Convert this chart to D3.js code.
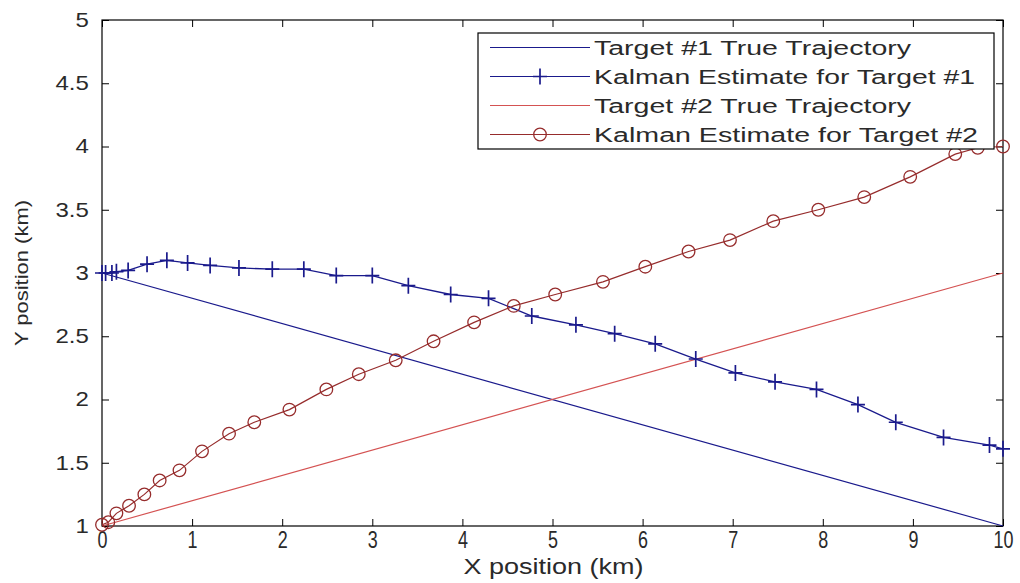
<!DOCTYPE html>
<html>
<head>
<meta charset="utf-8">
<script src="https://cdn.jsdelivr.net/npm/d3@7"></script>
<style>
  body { margin: 0; background: #fff; }
  text { font-family: Arial, "Liberation Sans", sans-serif; }
</style>
</head>
<body>
<div id="chart"></div>
<script>
// tick values
var xTicks = [0, 1, 2, 3, 4, 5, 6, 7, 8, 9, 10];
var yTicks = [1, 1.5, 2, 2.5, 3, 3.5, 4, 4.5, 5];

// true trajectories
var true1X = [0, 10];
var true1Y = [3, 1];
var true2X = [0, 10];
var true2Y = [1, 3];

// kalman estimate, target #1
var est1X = [0, 0.04, 0.11, 0.16, 0.29, 0.50, 0.72, 0.95, 1.20, 1.52, 1.89, 2.24, 2.60, 3.00, 3.40,
             3.87, 4.29, 4.77, 5.26, 5.69, 6.14, 6.59, 7.03, 7.47, 7.93, 8.39, 8.81, 9.34, 9.85, 10];
var est1Y = [3.00, 3.00, 3.00, 3.01, 3.02, 3.07, 3.10, 3.08, 3.06, 3.04, 3.03, 3.03, 2.98, 2.98, 2.90,
             2.83, 2.80, 2.66, 2.59, 2.52, 2.44, 2.32, 2.21, 2.14, 2.08, 1.96, 1.82, 1.70, 1.64, 1.61];

// kalman estimate, target #2
var est2X = [0, 0.07, 0.16, 0.30, 0.47, 0.64, 0.86, 1.11, 1.41, 1.69, 2.08, 2.49, 2.85, 3.26, 3.68,
             4.13, 4.57, 5.03, 5.56, 6.03, 6.51, 6.97, 7.45, 7.95, 8.46, 8.97, 9.47, 9.72, 10];
var est2Y = [1.01, 1.03, 1.10, 1.16, 1.25, 1.36, 1.44, 1.59, 1.73, 1.82, 1.92, 2.08, 2.20, 2.31, 2.46,
             2.61, 2.74, 2.83, 2.93, 3.05, 3.17, 3.26, 3.41, 3.50, 3.60, 3.76, 3.94, 3.99, 4.00];

var legendLabels = ["Target #1 True Trajectory", "Kalman Estimate for Target #1",
                    "Target #2 True Trajectory", "Kalman Estimate for Target #2"];

var blue = "#1a1a8c", red = "#d45252", darkRed = "#962c2c";
var textCol = "#2a2a2a";

var width = 1020, height = 583;
var svg = d3.select("#chart").append("svg")
    .attr("width", width)
    .attr("height", height);

var x = d3.scaleLinear().domain([0, 10]).range([102, 1003]);
var y = d3.scaleLinear().domain([1, 5]).range([526, 20]);

function zip(xs, ys) { return xs.map(function(d, i) { return [d, ys[i]]; }); }
var line = d3.line().x(function(d) { return x(d[0]); }).y(function(d) { return y(d[1]); });

// axes, ticks inside like matlab
var gx = svg.append("g")
    .attr("transform", "translate(0," + y(1) + ")")
    .call(d3.axisBottom(x).tickValues(xTicks).tickSize(-7).tickSizeOuter(0).tickPadding(6)
      .tickFormat(d3.format("d")));
gx.selectAll("text")
    .attr("font-size", 23)
    .attr("transform", "scale(0.78,1)");

var gy = svg.append("g")
    .attr("transform", "translate(" + x(0) + ",0)")
    .call(d3.axisLeft(y).tickValues(yTicks).tickSize(-7).tickSizeOuter(0).tickPadding(11)
      .tickFormat(d3.format("")));
gy.selectAll("text")
    .attr("font-size", 20)
    .attr("transform", "scale(1.2,1)");

svg.append("g")
    .attr("transform", "translate(0," + y(5) + ")")
    .call(d3.axisTop(x).tickValues(xTicks).tickSize(-7).tickSizeOuter(0).tickFormat(""));
svg.append("g")
    .attr("transform", "translate(" + x(10) + ",0)")
    .call(d3.axisRight(y).tickValues(yTicks).tickSize(-7).tickSizeOuter(0).tickFormat(""));

svg.selectAll(".domain").remove();
svg.selectAll(".tick line").attr("stroke", "#000");
svg.selectAll(".tick text").attr("fill", textCol);

svg.append("rect")
    .attr("x", x(0)).attr("y", y(5))
    .attr("width", x(10) - x(0)).attr("height", y(1) - y(5))
    .attr("fill", "none").attr("stroke", "#000").attr("stroke-width", 1.2);

// axis labels
svg.append("text")
    .attr("x", (x(0) + x(10)) / 2 + 1).attr("y", 574)
    .attr("text-anchor", "middle")
    .attr("font-size", 22)
    .attr("textLength", 180).attr("lengthAdjust", "spacingAndGlyphs")
    .attr("fill", textCol)
    .text("X position (km)");

svg.append("text")
    .attr("transform", "translate(28,273) rotate(-90)")
    .attr("text-anchor", "middle")
    .attr("font-size", 18)
    .attr("textLength", 146).attr("lengthAdjust", "spacingAndGlyphs")
    .attr("fill", textCol)
    .text("Y position (km)");

// series
svg.append("path").datum(zip(true1X, true1Y))
    .attr("d", line).attr("fill", "none").attr("stroke", blue).attr("stroke-width", 1.2);
svg.append("path").datum(zip(true2X, true2Y))
    .attr("d", line).attr("fill", "none").attr("stroke", red).attr("stroke-width", 1.2);

var e1 = zip(est1X, est1Y);
svg.append("path").datum(e1)
    .attr("d", line).attr("fill", "none").attr("stroke", blue).attr("stroke-width", 1.3);
svg.selectAll(".plus").data(e1).enter().append("path")
    .attr("class", "plus")
    .attr("transform", function(d) { return "translate(" + x(d[0]) + "," + y(d[1]) + ")"; })
    .attr("d", "M-7,0H7M0,-8V8")
    .attr("stroke", blue).attr("stroke-width", 1.7);

var e2 = zip(est2X, est2Y);
svg.append("path").datum(e2)
    .attr("d", line).attr("fill", "none").attr("stroke", darkRed).attr("stroke-width", 1.2);
svg.selectAll(".circ").data(e2).enter().append("circle")
    .attr("class", "circ")
    .attr("cx", function(d) { return x(d[0]); })
    .attr("cy", function(d) { return y(d[1]); })
    .attr("r", 6.3)
    .attr("fill", "none").attr("stroke", darkRed).attr("stroke-width", 1.3);

// legend
var legend = svg.append("g");
legend.append("rect")
    .attr("x", 478).attr("y", 33).attr("width", 516).attr("height", 116)
    .attr("fill", "#fff").attr("stroke", "#000").attr("stroke-width", 1.2);

var legColors = [blue, blue, red, darkRed];
var legWidths = [317, 381, 317, 384];
legendLabels.forEach(function(lab, i) {
  var cy = 47.5 + i * 29;
  legend.append("line")
      .attr("x1", 490).attr("x2", 590).attr("y1", cy).attr("y2", cy)
      .attr("stroke", legColors[i]).attr("stroke-width", 1.2);
  if (i === 1) {
    legend.append("path").attr("d", "M533," + cy + "H547M540," + (cy - 8) + "V" + (cy + 8))
        .attr("stroke", blue).attr("stroke-width", 1.7);
  }
  if (i === 3) {
    legend.append("circle").attr("cx", 540).attr("cy", cy).attr("r", 6.3)
        .attr("fill", "none").attr("stroke", darkRed).attr("stroke-width", 1.3);
  }
  legend.append("text")
      .attr("x", 594).attr("y", cy).attr("dy", "0.36em")
      .attr("font-size", 20)
      .attr("textLength", legWidths[i]).attr("lengthAdjust", "spacingAndGlyphs")
      .attr("fill", textCol)
      .text(lab);
});
</script>
</body>
</html>
